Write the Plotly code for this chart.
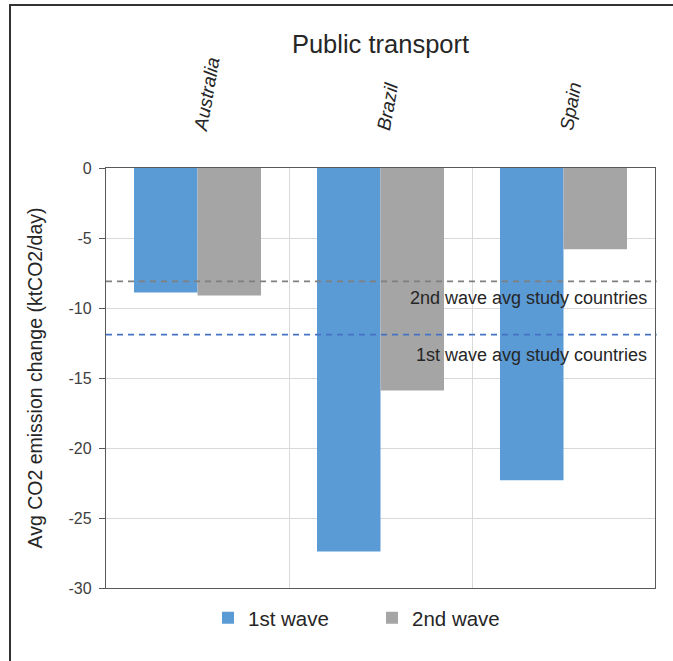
import plotly.graph_objects as go

countries = ["Australia", "Brazil", "Spain"]
wave1 = [-8.9, -27.4, -22.3]
wave2 = [-9.1, -15.9, -5.8]
avg_wave1 = -11.9
avg_wave2 = -8.1
y_ticks = [0, -5, -10, -15, -20, -25, -30]

FONT = "Liberation Sans, Arial, sans-serif"
idx = list(range(len(countries)))

fig = go.Figure()
fig.add_trace(go.Bar(x=idx, y=wave1, name="1st wave", marker=dict(color="#5B9BD5", line=dict(width=0))))
fig.add_trace(go.Bar(x=idx, y=wave2, name="2nd wave", marker=dict(color="#A5A5A5", line=dict(width=0))))
# invisible helper trace so the top category axis is drawn
fig.add_trace(go.Scatter(x=idx, y=[0] * len(idx), xaxis="x2", mode="markers",
                         marker=dict(opacity=0), showlegend=False, hoverinfo="skip"))

fig.update_layout(
    width=673, height=661,
    margin=dict(l=106, r=18, t=168, b=73),
    paper_bgcolor="white", plot_bgcolor="white",
    font=dict(family=FONT, color="#404040"),
    barmode="group", bargap=0.306, bargroupgap=0,
    title=dict(text="Public transport", x=0.5, xanchor="center", xref="paper",
               y=1 - 44 / 661, yanchor="middle", yref="container",
               font=dict(size=25.5, color="#262626", family=FONT)),
    xaxis=dict(range=[-0.5, len(idx) - 0.5], tickvals=[i + 0.5 for i in idx[:-1]],
               showticklabels=False, ticks="", showgrid=True, gridcolor="#d9d9d9", gridwidth=1,
               showline=True, linecolor="#595959", linewidth=1.3, mirror=True, zeroline=False),
    xaxis2=dict(overlaying="x", side="top", range=[-0.5, len(idx) - 0.5], tickvals=idx,
                ticktext=["<i>%s</i>" % c for c in countries], tickangle=-80,
                ticklabelstandoff=24, showgrid=False, showline=False, ticks="", zeroline=False,
                tickfont=dict(size=19, color="#262626", family=FONT)),
    yaxis=dict(range=[-30, 0], tickvals=y_ticks, ticktext=[str(v) for v in y_ticks],
               showgrid=True, gridcolor="#d9d9d9", gridwidth=1, zeroline=False,
               showline=True, linecolor="#595959", linewidth=1.3, mirror=True,
               ticks="outside", ticklen=6, tickcolor="#595959", ticklabelstandoff=4,
               tickfont=dict(size=16, color="#404040", family=FONT),
               title=dict(text="Avg CO2 emission change (ktCO2/day)", standoff=20,
                          font=dict(size=19.5, color="#262626", family=FONT))),
    legend=dict(orientation="h", x=(208 - 106) / 549, xanchor="left", y=-0.071, yanchor="middle",
                font=dict(size=20.5, color="#262626", family=FONT),
                itemwidth=30, entrywidth=119, traceorder="normal"),
    showlegend=True,
)

# reference lines (averages)
fig.add_shape(type="line", xref="paper", x0=0, x1=1.003, yref="y", y0=avg_wave2, y1=avg_wave2,
              line=dict(color="#7f7f7f", width=1.6, dash="6px,5px"), layer="above")
fig.add_shape(type="line", xref="paper", x0=0, x1=1.003, yref="y", y0=avg_wave1, y1=avg_wave1,
              line=dict(color="#4472C4", width=1.6, dash="6px,5px"), layer="above")

fig.add_annotation(text="2nd wave avg study countries", xref="paper", x=0.989, xanchor="right",
                   yref="y", y=avg_wave2, yshift=-17, yanchor="middle", showarrow=False,
                   font=dict(size=18, color="#262626", family=FONT))
fig.add_annotation(text="1st wave avg study countries", xref="paper", x=0.989, xanchor="right",
                   yref="y", y=avg_wave1, yshift=-20, yanchor="middle", showarrow=False,
                   font=dict(size=18, color="#262626", family=FONT))

# outer frame
fig.add_shape(type="rect", xref="paper", yref="paper",
              x0=(10 - 106) / 549, x1=1.2, y0=-0.3, y1=(588 - 5) / 420,
              line=dict(color="#333333", width=2), fillcolor="rgba(0,0,0,0)", layer="above")

fig.write_html("out.html", config={"displayModeBar": False},
               post_script="document.body.style.margin='0';document.body.style.overflow='hidden';")
